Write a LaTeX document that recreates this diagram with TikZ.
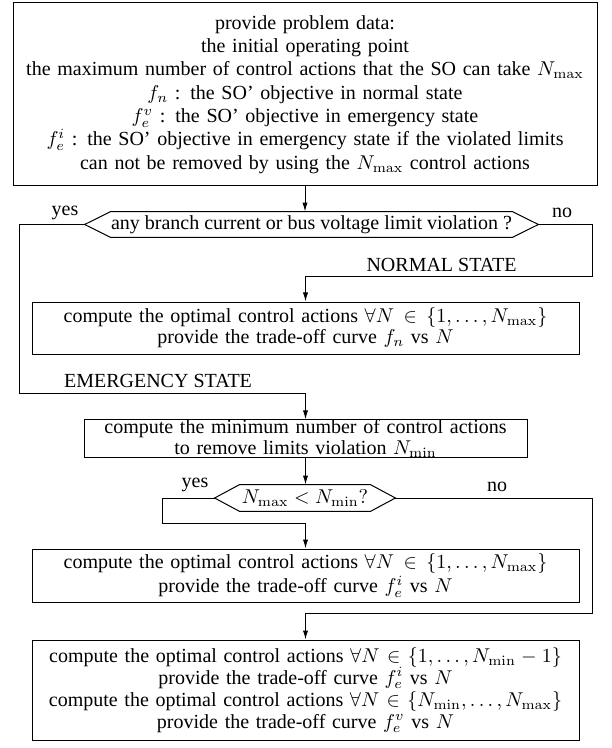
\documentclass[tikz,border=0pt]{standalone}
\usepackage{amsmath,amssymb}
\usepackage[no-math]{fontspec}
\setmainfont{Liberation Serif}
\usepackage{tikz}
\usetikzlibrary{positioning,arrows.meta,calc}
\tikzset{
  procbox/.style={draw,line width=0.5pt,align=center,inner sep=0pt},
  decbox/.style={inner sep=0pt,align=center},
  hexline/.style={line width=0.5pt},
  flow/.style={-{Latex[length=4.5pt,width=2.6pt]},line width=0.5pt},
  lbl/.style={inner sep=0pt},
}

\begin{document}
\begin{tikzpicture}[x=0.5pt,y=-0.5pt]
  \useasboundingbox (0,0) rectangle (611,748);
  % problem data
  \node[procbox,minimum width=292pt,minimum height=91.5pt,text width=290pt,
        font=\fontsize{10}{11.65}\selectfont] (data) at (305,94.5)
    {provide problem data:\\
     the initial operating point\\
     the maximum number of control actions that the SO can take $N_{\max}$\\
     $f_n$ : the SO' objective in normal state\\
     $f_e^v$ : the SO' objective in emergency state\\
     $f_e^i$ : the SO' objective in emergency state if the violated limits\\
     can not be removed by using the $N_{\max}$ control actions};
  % first test
  \node[decbox,minimum width=188.5pt,minimum height=12.5pt] (viol) at (311.5,224.5)
    {any branch current or bus voltage limit violation ?};
  \draw[hexline] (viol.north west) -- (viol.north east) -- ($(viol.east)+(26,0)$) coordinate (violE)
    -- (viol.south east) -- (viol.south west) -- ($(viol.west)+(-26,0)$) coordinate (violW) -- cycle;
  \draw[flow] (data.south) -- (data.south |- viol.north);
  \node[lbl] (yesA) at (65,213) {yes};
  \node[lbl] (noA) at (562,213) {no};
  % normal state
  \node[lbl,anchor=east] (normlbl) at (517,265) {NORMAL STATE};
  \node[procbox,minimum width=273.5pt,minimum height=26pt,text width=270pt,
        font=\fontsize{10}{10.5}\selectfont] (normal) at (305.5,328)
    {compute the optimal control actions $\forall N\in\{1,\dots,N_{\max}\}$\\
     provide the trade-off curve $f_n$ vs $N$};
  \coordinate (rc1) at (592,277);
  \draw[flow] (violE) -| (rc1) -| (normal.north);
  % emergency state
  \node[lbl] (emerlbl) at (158,381) {EMERGENCY STATE};
  \node[procbox,minimum width=221.5pt,minimum height=18.5pt,text width=218pt,
        font=\fontsize{10}{8.6}\selectfont] (mincount) at (305.5,438.5)
    {compute the minimum number of control actions\\
     to remove limits violation $N_{\min}$};
  \coordinate (lc1) at (19,393);
  \draw[flow] (violW) -| (lc1) -| (mincount.north);
  % second test
  \node[decbox,minimum width=65pt,minimum height=13pt] (lim) at (305,498)
    {$N_{\max}<N_{\min}?$};
  \draw[hexline] (lim.north west) -- (lim.north east) -- ($(lim.east)+(25,0)$) coordinate (limE)
    -- (lim.south east) -- (lim.south west) -- ($(lim.west)+(-25,0)$) coordinate (limW) -- cycle;
  \draw[flow] (mincount.south) -- (mincount.south |- lim.north);
  \node[lbl] (yesB) at (195,485) {yes};
  \node[lbl] (noB) at (497,487) {no};
  % curves
  \node[procbox,minimum width=273.5pt,minimum height=26.5pt,text width=270pt,
        font=\fontsize{10}{10.5}\selectfont] (optA) at (305.5,575.5)
    {compute the optimal control actions $\forall N\in\{1,\dots,N_{\max}\}$\\
     provide the trade-off curve $f_e^i$ vs $N$};
  \node[procbox,minimum width=273.5pt,minimum height=50pt,text width=270pt,
        font=\fontsize{10}{11}\selectfont] (optB) at (305.5,690)
    {compute the optimal control actions $\forall N\in\{1,\dots,N_{\min}-1\}$\\
     provide the trade-off curve $f_e^i$ vs $N$\\
     compute the optimal control actions $\forall N\in\{N_{\min},\dots,N_{\max}\}$\\
     provide the trade-off curve $f_e^v$ vs $N$};
  \coordinate (lc2) at (162,523);
  \coordinate (rc2) at (592,613);
  \draw[flow] (limW) -| (lc2) -| (optA.north);
  \draw[flow] (limE) -| (rc2) -| (optB.north);
\end{tikzpicture}
\end{document}
